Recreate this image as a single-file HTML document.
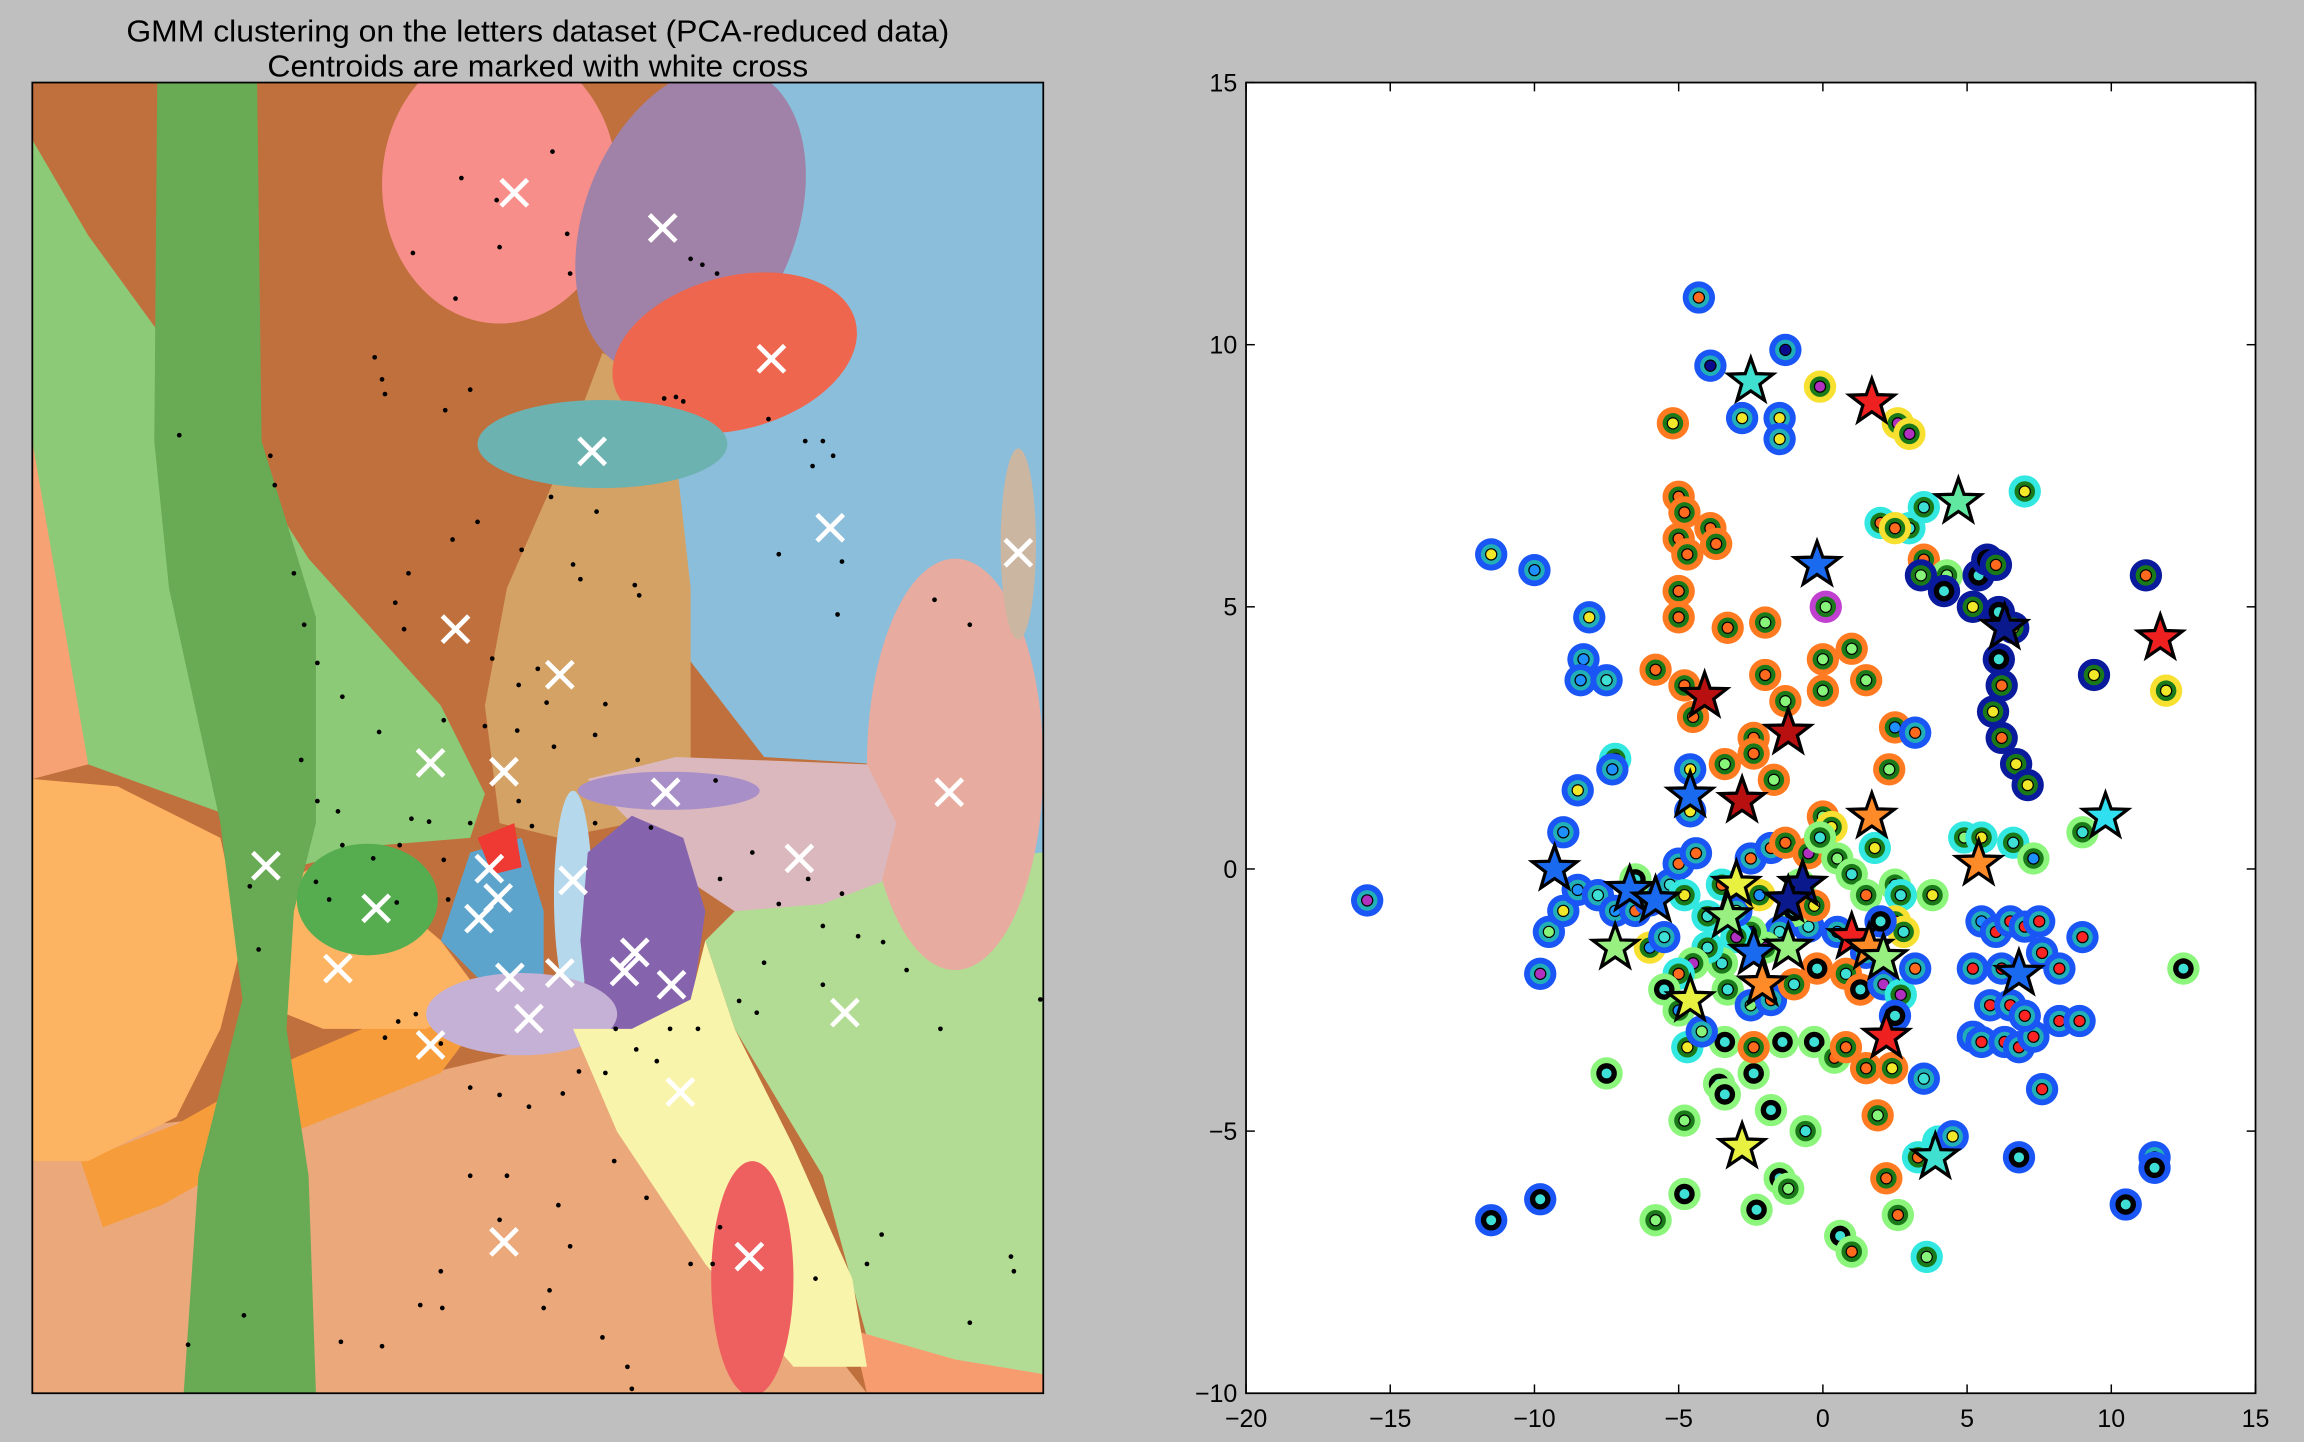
<!DOCTYPE html>
<html><head><meta charset="utf-8"><style>
html,body{margin:0;padding:0;background:#bfbfbf;}
svg{display:block;}
text{font-family:"Liberation Sans",sans-serif;}
</style></head><body>
<svg id="fig" width="2304" height="1442" viewBox="0 0 1568 981" xmlns="http://www.w3.org/2000/svg">
<rect x="0" y="0" width="1568" height="981" fill="#bfbfbf"/>
<text x="366" y="28" font-size="21" text-anchor="middle" textLength="560" lengthAdjust="spacingAndGlyphs">GMM clustering on the letters dataset (PCA-reduced data)</text>
<text x="366" y="52" font-size="21" text-anchor="middle" textLength="368" lengthAdjust="spacingAndGlyphs">Centroids are marked with white cross</text>
<defs><clipPath id="lc"><rect x="22" y="56" width="688" height="892"/></clipPath>
<clipPath id="rc"><rect x="848" y="56" width="687" height="892"/></clipPath></defs>
<g id="regions" clip-path="url(#lc)">
<rect x="22" y="56" width="688" height="892" fill="#c0703c"/>
<polygon fill="#8bbedb" points="470,56 710,56 710,600 610,560 600,520 520,515 470,450 455,330"/>
<polygon fill="#b2dc94" points="520,600 600,590 710,580 710,948 640,948 590,910 560,800 500,700 480,640"/>
<polygon fill="#eba87a" points="22,790 60,770 150,760 250,740 400,705 450,760 500,850 560,910 590,948 22,948"/>
<polygon fill="#f79c6e" points="580,905 650,925 710,935 710,948 590,948"/>
<polygon fill="#f79c3b" points="55,790 120,765 200,720 270,690 330,690 300,730 200,770 110,820 70,835"/>
<polygon fill="#fdb462" points="22,530 80,535 150,570 165,640 150,700 120,760 60,790 22,790"/>
<polygon fill="#f7a274" points="22,220 60,440 60,520 22,530"/>
<polygon fill="#8cca77" points="22,95 60,160 140,270 210,380 300,480 330,540 320,570 260,575 200,590 170,560 60,520 22,300"/>
<polygon fill="#fdb462" points="195,600 230,580 300,640 330,680 290,700 220,700 195,690"/>
<polygon fill="#69aa55" points="107,56 175,56 178,300 215,420 215,560 200,620 195,700 210,800 215,948 125,948 135,800 165,680 150,560 115,400 105,300"/>
<polygon fill="#d4a264" points="410,240 430,250 460,310 470,400 470,520 430,560 380,570 340,560 330,480 345,400 380,320"/>
<ellipse fill="#f78e8a" cx="340" cy="125" rx="80" ry="95"/>
<ellipse fill="#a082a8" cx="470" cy="150" rx="72" ry="110" transform="rotate(22 470 150)"/>
<ellipse fill="#ee664e" cx="500" cy="240" rx="85" ry="52" transform="rotate(-15 500 240)"/>
<ellipse fill="#6cb2b0" cx="410" cy="302" rx="85" ry="30"/>
<ellipse fill="#e7aba0" cx="650" cy="520" rx="60" ry="140"/>
<ellipse fill="#cbb6a2" cx="693" cy="370" rx="12" ry="65"/>
<polygon fill="#dbb8bd" points="400,530 460,515 590,520 610,560 600,600 560,615 500,620 470,600"/>
<ellipse fill="#a98fc7" cx="455" cy="538" rx="62" ry="13"/>
<ellipse fill="#55ad4f" cx="250" cy="612" rx="48" ry="38"/>
<polygon fill="#5da4cd" points="320,580 355,570 370,620 370,670 330,670 300,640"/>
<polygon fill="#ee3a32" points="325,570 350,560 355,590 335,595"/>
<ellipse fill="#b6d8ec" cx="390" cy="610" rx="13" ry="72"/>
<polygon fill="#8664ad" points="400,580 430,555 465,570 480,620 470,690 430,710 400,690 395,640"/>
<ellipse fill="#c5b1d6" cx="355" cy="690" rx="65" ry="28"/>
<polygon fill="#f9f4ab" points="390,700 430,700 470,680 480,640 500,700 540,780 580,870 590,930 540,930 480,860 420,770"/>
<ellipse fill="#ee6060" cx="512" cy="870" rx="28" ry="80"/>
</g>
<g id="dots" clip-path="url(#lc)"></g>
<g id="crosses"></g>
<rect x="22" y="56" width="688" height="892" fill="none" stroke="#000" stroke-width="1.2"/>
<rect x="848" y="56" width="687" height="892" fill="#fff"/>
<g id="axes"></g>
<g id="pts" clip-path="url(#rc)"></g>
<g id="stars" clip-path="url(#rc)"></g>
<rect x="848" y="56" width="687" height="892" fill="none" stroke="#000" stroke-width="1.2"/>
</svg>
<script>
const NS="http://www.w3.org/2000/svg";
// left panel data (display coords)
const crossX=[350,451,525,403,565,693,310,381,293,343,453,646,181,544,333,390,339,256,326,432,230,347,381,425,457,575,360,293,463,343,510];
const crossY=[131,155,244,307,359,376,428,459,519,525,539,539,589,584,591,599,611,618,625,648,659,665,662,661,670,689,693,711,743,845,855];
const dotX=[376,314,338,340,386,388,470,478,488,281,310,255,260,262,303,320,452,460,465,548,560,567,553,523,122,184,187,406,375,325,308,278,355,390,395,432,435,530,573,570,636,660,200,207,216,269,275,335,353,366,372,330,352,377,405,412,434,487,233,258,302,205,216,230,280,292,302,272,254,305,353,362,320,405,443,490,512,550,573,520,530,560,584,601,617,640,560,503,515,475,456,447,433,419,412,394,383,360,340,320,300,271,262,283,224,170,176,270,215,233,320,340,380,388,374,370,300,301,260,286,232,410,427,430,490,470,485,555,590,600,660,688,690,708,128,166,418,345,440];
const dotY=[103,121,136,168,159,186,176,180,186,172,203,243,258,268,279,265,271,270,273,300,300,310,317,285,296,310,330,348,338,355,367,390,374,384,394,398,405,377,382,418,408,425,390,425,451,410,428,448,466,455,478,494,497,508,500,479,517,531,474,498,490,517,545,552,557,559,585,575,584,612,545,562,560,560,563,598,580,598,608,655,615,630,637,641,660,700,670,681,689,700,700,722,714,700,730,729,744,753,745,740,710,695,706,690,612,603,646,614,600,575,800,830,820,848,878,890,865,890,916,888,913,910,930,945,835,860,860,870,860,840,900,855,865,680,915,895,790,800,815];
// right panel data
const ptX=[-4.3,-3.9,-1.3,-2.8,-1.5,-1.5,-0.1,2.6,3.0,-5.2,-5.0,-4.8,-5.0,-4.7,-3.9,-3.7,-5.0,-5.0,-5.8,-4.8,-4.5,-3.3,-2.0,-11.5,-10,-8.1,-8.3,-8.4,-7.5,-7.2,-7.3,-8.5,-9,-15.8,0.1,0,1,-2,-1.3,0,1.5,-2.4,-2.4,-1.7,-3.4,2,3,3.5,2.5,7,3.5,4.3,3.4,4.2,5.2,5.4,5.7,6.0,6.1,6.6,6.1,6.2,5.9,6.2,6.7,7.1,9.4,11.2,11.9,2.5,2.3,3.2,3.8,4.9,5.5,6.6,7.3,9,5.5,6,6.5,7,7.5,5.2,6.2,7.6,8.2,5.2,5.5,6.3,6.8,7.3,5.8,6.5,7,8.2,8.9,9.0,7.6,6.8,10.5,11.5,11.5,12.5,-4.8,-5.8,-4.8,-2.3,-1.5,-1.2,-0.6,0.6,1,3.6,3.3,4,2.2,2.6,1.9,-11.5,-9.8,-7.5,-3.6,-3.4,-2.4,-1.8,-3.4,-1.4,-0.3,0.4,-2.4,0.8,1.5,2.4,3.5,-9.5,-9,-9.8,-8.5,-7.8,-7.2,-6.5,-6,-5.3,-5,-4.4,-4.8,-4,-3.5,-2.5,-1.8,-1.3,-0.5,0,0.3,-0.1,0.5,1,1.5,2.5,2.7,2.5,2.8,2,1.5,0.5,-0.5,-1,-1.5,-2,-2.5,-3,-3.5,-4,-4.5,-5,-5.5,-5,-4.7,-4.2,-3.3,-2.5,-1.8,-1,-0.2,0.8,1.3,2.1,2.7,3.2,2.5,-6.5,-6,-5.5,-3,-2.2,-0.8,-0.3,1.8,4.1,4.5,-4.6,-4.6];
const ptY=[10.9,9.6,9.9,8.6,8.6,8.2,9.2,8.5,8.3,8.5,7.1,6.8,6.3,6.0,6.5,6.2,5.3,4.8,3.8,3.5,2.9,4.6,4.7,6.0,5.7,4.8,4.0,3.6,3.6,2.1,1.9,1.5,0.7,-0.6,5.0,4.0,4.2,3.7,3.2,3.4,3.6,2.5,2.2,1.7,2.0,6.6,6.5,6.9,6.5,7.2,5.9,5.6,5.6,5.3,5.0,5.6,5.9,5.8,4.9,4.6,4.0,3.5,3.0,2.5,2.0,1.6,3.7,5.6,3.4,2.7,1.9,2.6,-0.5,0.6,0.6,0.5,0.2,0.7,-1,-1.2,-1,-1.1,-1,-1.9,-1.9,-1.6,-1.9,-3.2,-3.3,-3.3,-3.4,-3.2,-2.6,-2.6,-2.8,-2.9,-2.9,-1.3,-4.2,-5.5,-6.4,-5.5,-5.7,-1.9,-4.8,-6.7,-6.2,-6.5,-5.9,-6.1,-5.0,-7.0,-7.3,-7.4,-5.5,-5.2,-5.9,-6.6,-4.7,-6.7,-6.3,-3.9,-4.1,-4.3,-3.9,-4.6,-3.3,-3.3,-3.3,-3.6,-3.4,-3.4,-3.8,-3.8,-4.0,-1.2,-0.8,-2.0,-0.4,-0.5,-0.8,-0.8,-0.6,-0.3,0.1,0.3,-0.5,-0.9,-0.3,0.2,0.4,0.5,0.3,1.0,0.8,0.6,0.2,-0.1,-0.5,-0.3,-0.5,-1,-1.2,-1.0,-1.6,-1.2,-1.1,-0.8,-1.2,-1.5,-1.2,-1.3,-1.8,-1.5,-1.8,-2,-2.3,-2.7,-3.4,-3.1,-2.3,-2.6,-2.5,-2.2,-1.9,-2.0,-2.3,-2.2,-2.4,-1.9,-2.8,-0.2,-1.5,-1.3,-0.8,-0.5,-0.3,-0.7,0.4,-5.2,-5.1,1.9,1.1];
const ptOuter="BBBBBBYYYOOOOOOOOOOOOOOBBBBBBCBBBBMOOOOOOOOOOCCCYCOGNNNNNNNNNNNNNNNNYOOBGCCCGGBBBBBBBBBBBBBBBBBBBBBBBBBGGGGGGGGGGCCCOGOBBGGGGGGGGGOOOOBBBBBBBBBBBBCCCBBOOOYGGGGGCYYBBBBGBGGCGCGCGGCBGBBOOOOBCBBGYBBYGOCCBB".split("");
const ptInner="ONNYYYMMMYOOOOOOOOOOOOGYBYBBCCBYBMGGGOGGGOOGGOCCOYOGGKYKKOKYKOYOYYYOYBGOYGYCBCBRRRRRRRRRRRRRRRRRRRRKKOKKGGKKKGCKOGOYOOGKKKKKKKKKKOOOOYCGYMBCBOBCOOYCOOOOMGYCGCOCCOCKCBCKCMNMCCMOKBYGCGOCKCKMMOKKBCGBYY".split("");
const starX=[-2.5,1.7,4.7,-0.2,6.3,11.7,-4.1,-1.2,-2.8,-4.6,1.7,9.8,-9.3,5.4,-6.7,-5.8,-3,-0.7,-1.2,-7.2,-3.3,-2.4,-1.2,1,1.6,2.1,-4.6,-2.1,2.2,6.8,-2.8,3.9];
const starY=[9.3,8.9,7.0,5.8,4.6,4.4,3.3,2.6,1.3,1.4,1.0,1.0,0,0.1,-0.4,-0.6,-0.3,-0.3,-0.6,-1.5,-0.9,-1.6,-1.5,-1.3,-1.5,-1.7,-2.5,-2.2,-3.2,-2.0,-5.3,-5.5];
const starC="TRSBNRDDDBOCBOBBYNNGGBGROGYORBYT".split("");
const xTicks=[-20,-15,-10,-5,0,5,10,15];
const yTicks=[-10,-5,0,5,10,15];
const PAL={B:'#1e8fff',N:'#0a0a8c',O:'#ff6a1e',Y:'#f2e82a',G:'#86f57a',C:'#3ee0d6',M:'#b030c0',R:'#ff2424',K:'#000000',T:'#40e8d8',S:'#50e8a0',D:'#c01010'};
const OUT={B:'#1a55f5',N:'#0a1a9c',O:'#ff7a20',Y:'#f8e030',G:'#8cf57c',C:'#32e8e0',M:'#c040d0'};
function sx(v){return 848+(v+20)*(687/35);}
function sy(v){return 948-(v+10)*(892/25);}
function mk(tag,attrs,parent){const e=document.createElementNS(NS,tag);for(const k in attrs)e.setAttribute(k,attrs[k]);parent.appendChild(e);return e;}
const dots=document.getElementById('dots');
for(let i=0;i<dotX.length;i++){
 const c=mk('circle',{cx:dotX[i],cy:dotY[i],r:1.6,fill:'#000'},dots);
 
 
}
const cr=document.getElementById('crosses');
for(let i=0;i<crossX.length;i++){
 const x=crossX[i],y=crossY[i],s=9;
 const p=mk('path',{d:`M${x-s} ${y-s}L${x+s} ${y+s}M${x-s} ${y+s}L${x+s} ${y-s}`,stroke:'#fff','stroke-width':3.2,fill:'none'},cr);
 
 
}
const ax=document.getElementById('axes');
xTicks.forEach(t=>{
 const x=sx(t);
 mk('line',{x1:x,x2:x,y1:948,y2:942,stroke:'#000'},ax);
 mk('line',{x1:x,x2:x,y1:56,y2:62,stroke:'#000'},ax);
 const tx=mk('text',{x:x,y:971,'font-size':17,'text-anchor':'middle'},ax);
 tx.textContent=(t<0?'\u2212':'')+Math.abs(t);
 
 
});
yTicks.forEach(t=>{
 const y=sy(t);
 mk('line',{x1:848,x2:854,y1:y,y2:y,stroke:'#000'},ax);
 mk('line',{x1:1535,x2:1529,y1:y,y2:y,stroke:'#000'},ax);
 const tx=mk('text',{x:842,y:y+6,'font-size':17,'text-anchor':'end'},ax);
 tx.textContent=(t<0?'\u2212':'')+Math.abs(t);
 
 
});
const pts=document.getElementById('pts');
for(let i=0;i<ptX.length;i++){
 const x=sx(ptX[i]),y=sy(ptY[i]);
 const o=ptOuter[i]||'B',n=ptInner[i]||'Y';
 const g=mk('g',{},pts);
 
 
 mk('circle',{cx:x,cy:y,r:11,fill:OUT[o]||PAL[o]},g);
 mk('circle',{cx:x,cy:y,r:7,fill:n==='K'?'#000':(o==='B'?'#22b0b8':'#1a7a1a')},g);
 mk('circle',{cx:x,cy:y,r:3.8,fill:PAL[n==='K'?'C':n],stroke:'#000','stroke-width':0.8},g);
}
const st=document.getElementById('stars');
const STC={T:'#40e0d0',R:'#ee2020',S:'#60e8a0',B:'#1a6af0',N:'#0a1a8c',D:'#b81010',O:'#ff8a28',C:'#30e0f0',Y:'#e8f040',G:'#98f080'};
for(let i=0;i<starX.length;i++){
 const x=sx(starX[i]),y=sy(starY[i]);let d='';
 for(let k=0;k<10;k++){const r=k%2?6.5:16;const a=-Math.PI/2+k*Math.PI/5;d+=(k?'L':'M')+(x+r*Math.cos(a)).toFixed(1)+' '+(y+r*Math.sin(a)).toFixed(1);}
 const p=mk('path',{d:d+'Z',fill:STC[starC[i]]||'#1a6af0',stroke:'#000','stroke-width':2.2,'stroke-linejoin':'miter'},st);
 
 
}
</script>
</body></html>
